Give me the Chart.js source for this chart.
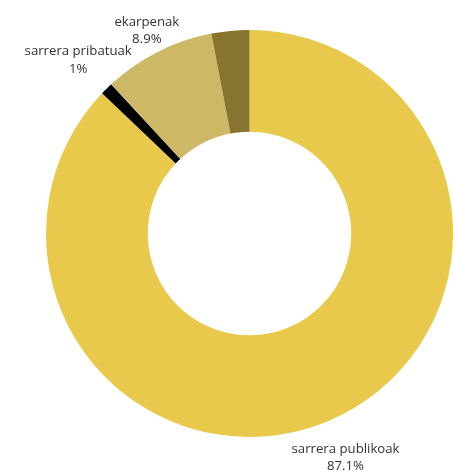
<!DOCTYPE html>
<html>
<head>
<meta charset="utf-8">
<script src="https://cdn.jsdelivr.net/npm/chart.js@4"></script>
<style>
  html, body { margin: 0; padding: 0; background: #fff; }
  #wrap { width: 453px; height: 472px; }
</style>
</head>
<body>
<div id="wrap"><canvas id="myChart" width="453" height="472"></canvas></div>
<script>
const labels = ["sarrera publikoak", "sarrera pribatuak", "ekarpenak", ""];
const values = [87.1, 1, 8.9, 3.0];
const valueText = ["87.1%", "1%", "8.9%", ""];
const colors = ["#e8c94b", "#000000", "#cdb866", "#87742f"];
// extra radial push (px) for each outside label
const labelShift = [7, -6, -2, 0];

// draws the outside labels, pushed out along each slice's middle
const outsideLabels = {
  id: "outsideLabels",
  afterDatasetsDraw(chart) {
    const ctx = chart.ctx;
    const meta = chart.getDatasetMeta(0);
    ctx.save();
    ctx.font = "13.2px 'Open Sans'";
    ctx.fillStyle = "#333";
    ctx.textAlign = "center";
    ctx.textBaseline = "middle";
    meta.data.forEach((arc, i) => {
      if (!labels[i]) return;
      const a = (arc.startAngle + arc.endAngle) / 2;
      const dx = Math.cos(a), dy = Math.sin(a);
      const w = Math.max(ctx.measureText(labels[i]).width, ctx.measureText(valueText[i]).width);
      const h = 30;
      const ext = Math.abs(dx) * w / 2 + Math.abs(dy) * h / 2;
      const r = arc.outerRadius + ext - 2 + labelShift[i];
      const cx = arc.x + dx * r, cy = arc.y + dy * r;
      ctx.fillText(labels[i], cx, cy - 8.5);
      ctx.fillText(valueText[i], cx, cy + 9);
    });
    ctx.restore();
  }
};

new Chart(document.getElementById("myChart"), {
  type: "doughnut",
  data: {
    labels: labels,
    datasets: [
      {
        data: values,
        backgroundColor: colors,
        borderWidth: 0,
      },
    ],
  },
  options: {
    responsive: false,
    animation: false,
    cutout: "50%",
    layout: {
      padding: { left: 46, right: 0, top: 30, bottom: 35 },
    },
    plugins: {
      legend: { display: false },
      tooltip: { enabled: false },
    },
  },
  plugins: [outsideLabels],
});
</script>
</body>
</html>
